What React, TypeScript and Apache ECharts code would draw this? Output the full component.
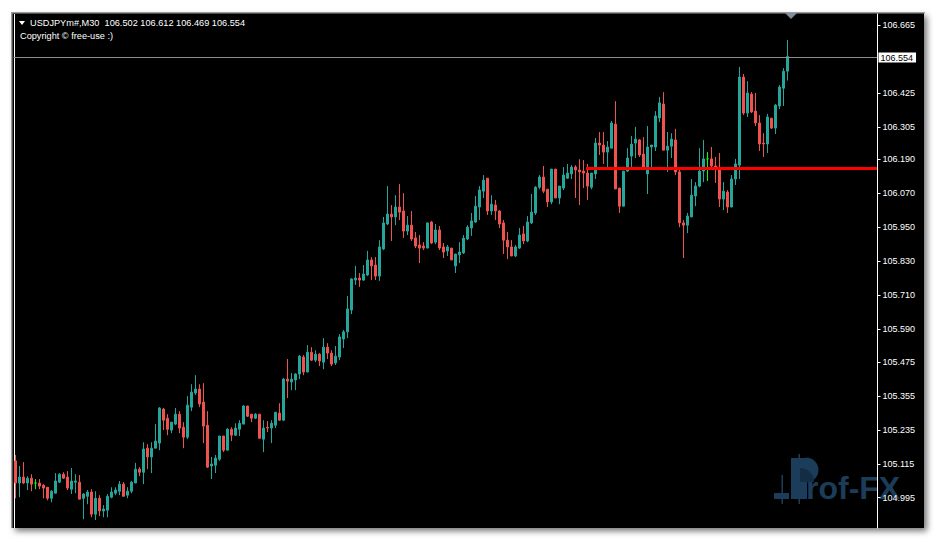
import React, { useEffect, useRef } from "react";
import * as echarts from "echarts";

// ---- data ----
const symbolTitle = "USDJPYm#,M30";
const lastBar = { open: 106.502, high: 106.612, low: 106.469, close: 106.554 };
const copyrightText = "Copyright \u00A9 free-use :)";

const opens = [
  105.125, 105.047, 105.068, 105.047, 105.064, 105.047, 105.047, 105.039, 105.032, 104.993,
  105.011, 105.050, 105.078, 105.068, 105.025, 105.050, 105.050, 104.993, 105.000, 105.015,
  104.937, 104.993, 104.948, 104.951, 104.997, 105.011, 105.018, 105.043, 105.004, 105.018,
  105.047, 105.096, 105.085, 105.170, 105.139, 105.170, 105.188, 105.308, 105.276, 105.234,
  105.255, 105.290, 105.244, 105.209, 105.315, 105.365, 105.379, 105.333, 105.251, 105.107,
  105.110, 105.131, 105.213, 105.163, 105.237, 105.216, 105.237, 105.255, 105.319, 105.290,
  105.276, 105.290, 105.202, 105.244, 105.241, 105.251, 105.294, 105.269, 105.414, 105.404,
  105.411, 105.432, 105.492, 105.439, 105.509, 105.481, 105.502, 105.474, 105.527, 105.506,
  105.471, 105.492, 105.556, 105.581, 105.658, 105.764, 105.771, 105.764, 105.782, 105.835,
  105.817, 105.778, 105.874, 105.962, 105.997, 105.987, 106.022, 106.008, 105.937, 105.958,
  105.913, 105.888, 105.884, 105.877, 105.969, 105.898, 105.941, 105.881, 105.867, 105.877,
  105.814, 105.853, 105.860, 105.909, 105.948, 105.969, 106.022, 106.078, 106.124, 106.008,
  106.029, 106.008, 105.966, 105.905, 105.881, 105.849, 105.877, 105.927, 105.902, 105.966,
  106.001, 106.092, 106.128, 106.085, 106.040, 106.156, 106.054, 106.089, 106.124, 106.139,
  106.163, 106.153, 106.149, 106.142, 106.092, 106.139, 106.248, 106.241, 106.216, 106.230,
  106.315, 106.089, 106.025, 106.149, 106.202, 106.248, 106.259, 106.209, 106.139, 106.234,
  106.234, 106.337, 106.386, 106.223, 106.237, 106.259, 106.146, 105.966, 105.958, 105.987,
  106.061, 106.096, 106.149, 106.192, 106.192, 106.167, 106.160, 106.050, 106.075, 106.022,
  106.121, 106.170, 106.481, 106.354, 106.421, 106.361, 106.319, 106.248, 106.245, 106.336,
  106.301, 106.379, 106.442, 106.502,
];

const closes = [
  105.047, 105.068, 105.047, 105.064, 105.043, 105.047, 105.036, 105.029, 104.993, 105.018,
  105.054, 105.078, 105.064, 105.029, 105.054, 105.054, 104.990, 105.008, 105.015, 104.937,
  104.993, 104.948, 104.955, 105.000, 105.015, 105.022, 105.043, 105.000, 105.018, 105.050,
  105.096, 105.085, 105.167, 105.139, 105.170, 105.195, 105.312, 105.269, 105.237, 105.262,
  105.290, 105.241, 105.209, 105.322, 105.368, 105.379, 105.326, 105.248, 105.103, 105.114,
  105.135, 105.213, 105.163, 105.237, 105.216, 105.241, 105.258, 105.319, 105.283, 105.276,
  105.290, 105.205, 105.241, 105.241, 105.258, 105.297, 105.269, 105.414, 105.407, 105.414,
  105.432, 105.495, 105.439, 105.509, 105.481, 105.502, 105.478, 105.527, 105.506, 105.467,
  105.495, 105.563, 105.581, 105.662, 105.768, 105.771, 105.764, 105.785, 105.835, 105.814,
  105.778, 105.881, 105.966, 105.997, 105.987, 106.022, 106.004, 105.937, 105.958, 105.909,
  105.884, 105.877, 105.877, 105.966, 105.895, 105.941, 105.877, 105.863, 105.881, 105.835,
  105.856, 105.863, 105.912, 105.951, 105.973, 106.025, 106.082, 106.117, 106.008, 106.032,
  106.008, 105.962, 105.905, 105.881, 105.849, 105.881, 105.923, 105.902, 105.969, 106.004,
  106.092, 106.128, 106.078, 106.040, 106.156, 106.054, 106.096, 106.135, 106.142, 106.163,
  106.153, 106.146, 106.142, 106.096, 106.142, 106.248, 106.241, 106.216, 106.234, 106.319,
  106.086, 106.025, 106.149, 106.195, 106.244, 106.262, 106.206, 106.160, 106.234, 106.241,
  106.344, 106.390, 106.223, 106.237, 106.262, 106.146, 105.966, 105.958, 105.990, 106.064,
  106.096, 106.149, 106.192, 106.192, 106.167, 106.156, 106.050, 106.078, 106.022, 106.121,
  106.174, 106.481, 106.354, 106.425, 106.358, 106.319, 106.245, 106.245, 106.340, 106.301,
  106.382, 106.446, 106.502, 106.554,
];

const lows = [
  104.993, 104.997, 105.043, 105.022, 105.018, 105.025, 105.025, 104.993, 104.986, 104.979,
  105.011, 105.047, 105.061, 105.022, 105.008, 105.011, 104.990, 104.919, 104.972, 104.926,
  104.916, 104.930, 104.926, 104.926, 104.993, 105.004, 105.004, 105.000, 104.993, 105.011,
  105.047, 105.071, 105.043, 105.096, 105.082, 105.170, 105.163, 105.234, 105.216, 105.223,
  105.251, 105.223, 105.170, 105.202, 105.301, 105.358, 105.315, 105.188, 105.100, 105.061,
  105.082, 105.125, 105.156, 105.163, 105.195, 105.213, 105.213, 105.255, 105.280, 105.262,
  105.273, 105.205, 105.156, 105.227, 105.188, 105.241, 105.266, 105.266, 105.347, 105.375,
  105.375, 105.414, 105.428, 105.439, 105.478, 105.474, 105.460, 105.449, 105.485, 105.460,
  105.464, 105.481, 105.524, 105.559, 105.644, 105.747, 105.740, 105.761, 105.778, 105.764,
  105.764, 105.761, 105.870, 105.958, 105.902, 105.958, 105.976, 105.913, 105.923, 105.902,
  105.877, 105.824, 105.870, 105.877, 105.891, 105.891, 105.870, 105.842, 105.849, 105.835,
  105.789, 105.824, 105.856, 105.905, 105.920, 105.966, 105.976, 106.054, 105.994, 105.994,
  105.976, 105.948, 105.856, 105.838, 105.849, 105.845, 105.874, 105.891, 105.898, 105.962,
  105.994, 106.085, 106.071, 106.022, 106.032, 106.054, 106.032, 106.082, 106.121, 106.121,
  106.054, 106.029, 106.089, 106.047, 106.085, 106.121, 106.206, 106.174, 106.160, 106.230,
  106.086, 106.001, 106.025, 106.146, 106.153, 106.195, 106.199, 106.160, 106.068, 106.160,
  106.220, 106.322, 106.223, 106.146, 106.195, 106.135, 105.951, 105.842, 105.930, 105.987,
  106.025, 106.092, 106.110, 106.114, 106.163, 106.107, 106.022, 106.011, 106.001, 106.022,
  106.100, 106.121, 106.347, 106.340, 106.354, 106.308, 106.220, 106.199, 106.213, 106.298,
  106.280, 106.368, 106.379, 106.469,
];

const highs = [
  105.146, 105.107, 105.121, 105.071, 105.078, 105.061, 105.061, 105.043, 105.032, 105.022,
  105.082, 105.082, 105.085, 105.089, 105.100, 105.078, 105.075, 105.011, 105.022, 105.025,
  105.018, 105.004, 104.969, 105.008, 105.032, 105.032, 105.054, 105.050, 105.032, 105.054,
  105.118, 105.103, 105.191, 105.184, 105.191, 105.255, 105.315, 105.312, 105.290, 105.262,
  105.312, 105.301, 105.262, 105.354, 105.396, 105.428, 105.396, 105.400, 105.301, 105.139,
  105.146, 105.213, 105.213, 105.241, 105.244, 105.258, 105.269, 105.322, 105.319, 105.290,
  105.294, 105.290, 105.269, 105.266, 105.269, 105.297, 105.329, 105.418, 105.485, 105.435,
  105.435, 105.499, 105.499, 105.534, 105.527, 105.516, 105.506, 105.559, 105.541, 105.516,
  105.531, 105.573, 105.588, 105.708, 105.771, 105.814, 105.789, 105.817, 105.867, 105.845,
  105.845, 105.905, 105.987, 106.096, 106.029, 106.064, 106.103, 106.071, 105.990, 106.008,
  105.934, 105.923, 105.898, 105.966, 105.973, 105.962, 105.955, 105.895, 105.888, 105.877,
  105.856, 105.898, 105.923, 105.958, 106.001, 106.061, 106.096, 106.135, 106.124, 106.064,
  106.047, 106.011, 105.976, 105.934, 105.905, 105.888, 105.948, 105.955, 105.990, 106.068,
  106.096, 106.135, 106.167, 106.085, 106.156, 106.156, 106.096, 106.163, 106.174, 106.170,
  106.170, 106.191, 106.188, 106.174, 106.142, 106.266, 106.287, 106.287, 106.255, 106.326,
  106.396, 106.089, 106.149, 106.230, 106.273, 106.305, 106.262, 106.269, 106.308, 106.241,
  106.361, 106.411, 106.428, 106.287, 106.283, 106.298, 106.160, 105.976, 106.001, 106.121,
  106.110, 106.230, 106.259, 106.216, 106.234, 106.199, 106.213, 106.110, 106.082, 106.135,
  106.192, 106.517, 106.492, 106.467, 106.428, 106.425, 106.347, 106.283, 106.351, 106.336,
  106.386, 106.453, 106.513, 106.612,
];

const priceTicks = [
  106.665, 106.425, 106.305, 106.19, 106.07, 105.95, 105.83, 105.71, 105.59, 105.475,
  105.355, 105.235, 105.115, 104.995,
];
const bidPrice = 106.554;
const levelPrice = 106.158;
const levelStartBar = 143;
const totalSlots = 216; // bar slots visible in the window (incl. empty right shift)

const FONT = "Liberation Sans, Arial, sans-serif";
const BULL = "#26a69a";
const BEAR = "#ef5350";
const LOGO = "#1b3d5a";
const LOGO_DARK = "#132d44";

export default function App() {
  const ref = useRef<HTMLDivElement>(null);

  useEffect(() => {
    if (!ref.current) return;
    const chart = echarts.init(ref.current, null, { renderer: "svg" });

    const categories: string[] = [];
    for (let i = 0; i < totalSlots; i++) categories.push(String(i));
    const ohlc = opens.map((o, i) => [o, closes[i], lows[i], highs[i]]);
    const header = `${symbolTitle}  ${lastBar.open.toFixed(3)} ${lastBar.high.toFixed(3)} ${lastBar.low.toFixed(3)} ${lastBar.close.toFixed(3)}`;

    chart.setOption({
      animation: false,
      backgroundColor: "#ffffff",
      grid: { left: 13.5, right: 58.5, top: 14, bottom: 12, containLabel: false },
      xAxis: {
        type: "category",
        data: categories,
        boundaryGap: true,
        axisLine: { show: false },
        axisTick: { show: false },
        axisLabel: { show: false },
        splitLine: { show: false },
      },
      yAxis: {
        type: "value",
        position: "right",
        min: 104.888,
        max: 106.704,
        scale: true,
        z: 5,
        axisLine: { show: true, lineStyle: { color: "#ffffff", width: 1 } },
        axisTick: {
          show: true,
          length: 3,
          lineStyle: { color: "#ffffff", width: 1 },
          customValues: priceTicks,
        },
        axisLabel: {
          show: true,
          color: "#ffffff",
          fontSize: 9,
          fontFamily: FONT,
          margin: 5,
          customValues: priceTicks,
          formatter: (v: number) => v.toFixed(3),
        },
        splitLine: { show: false },
      },
      graphic: [
        {
          type: "rect",
          z: -20,
          shape: { x: 12, y: 13, width: 912, height: 515 },
          style: {
            fill: "#000000",
            shadowBlur: 6,
            shadowOffsetX: 3,
            shadowOffsetY: 3,
            shadowColor: "rgba(0,0,0,0.55)",
          },
        },
        { type: "rect", z: -19, shape: { x: 11, y: 12, width: 914, height: 1.5 }, style: { fill: "#9a9a9a" } },
        { type: "rect", z: -19, shape: { x: 11, y: 12, width: 1.5, height: 516 }, style: { fill: "#9a9a9a" } },
        { type: "rect", z: -18, shape: { x: 14, y: 14, width: 1, height: 514 }, style: { fill: "#ffffff" } },
        // logo (drawn under the axis labels, as in the reference)
        { type: "rect", z: -15, shape: { x: 774, y: 493, width: 15, height: 6 }, style: { fill: LOGO } },
        { type: "rect", z: -15, shape: { x: 781.5, y: 475, width: 1.5, height: 29 }, style: { fill: LOGO } },
        { type: "rect", z: -15, shape: { x: 791, y: 458, width: 16, height: 41 }, style: { fill: LOGO } },
        { type: "rect", z: -15, shape: { x: 798.5, y: 454, width: 1.5, height: 50 }, style: { fill: LOGO } },
        {
          type: "sector",
          z: -15,
          shape: { cx: 806, cy: 470, r: 12.5, r0: 0, startAngle: -Math.PI / 2, endAngle: Math.PI / 2 },
          style: { fill: LOGO },
        },
        {
          type: "sector",
          z: -14,
          shape: { cx: 800, cy: 482, r: 14, r0: 0, startAngle: -Math.PI / 2, endAngle: 0 },
          style: { fill: LOGO_DARK },
        },
        {
          type: "text",
          z: -14,
          x: 806,
          y: 488,
          style: {
            text: "rof-FX",
            fill: LOGO,
            fontSize: 32,
            fontWeight: "bold",
            fontFamily: FONT,
            verticalAlign: "middle",
          },
        },
        // header
        {
          type: "polygon",
          z: 10,
          shape: { points: [[19, 21], [25, 21], [22, 25]] },
          style: { fill: "#ffffff" },
        },
        {
          type: "text",
          z: 10,
          x: 30,
          y: 23,
          style: { text: header, fill: "#ffffff", fontSize: 9.2, fontFamily: FONT, verticalAlign: "middle" },
        },
        {
          type: "text",
          z: 10,
          x: 20,
          y: 35.5,
          style: { text: copyrightText, fill: "#ffffff", fontSize: 9.2, fontFamily: FONT, verticalAlign: "middle" },
        },
        {
          type: "polygon",
          z: 10,
          shape: { points: [[785, 13], [797, 13], [791, 19]] },
          style: { fill: "#7f8c99" },
        },
      ],
      series: [
        {
          type: "candlestick",
          data: ohlc,
          barWidth: 2,
          silent: true,
          itemStyle: {
            color: BULL,
            color0: BEAR,
            borderColor: BULL,
            borderColor0: BEAR,
            borderColorDoji: "#00ff00",
            borderWidth: 1,
          },
          markLine: {
            silent: true,
            symbol: ["none", "none"],
            animation: false,
            data: [
              {
                yAxis: bidPrice,
                lineStyle: { color: "#8c8c8c", width: 1, type: "solid" },
                label: {
                  show: true,
                  position: "end",
                  distance: 1,
                  formatter: bidPrice.toFixed(3),
                  color: "#000000",
                  backgroundColor: "#ffffff",
                  padding: [1, 3, 0, 2],
                  fontSize: 9,
                  fontFamily: FONT,
                },
              },
              [
                {
                  coord: [levelStartBar, levelPrice],
                  lineStyle: { color: "#ff0000", width: 3, type: "solid", cap: "square" },
                  label: { show: false },
                },
                { coord: [totalSlots - 1, levelPrice] },
              ],
            ],
          },
        },
      ],
    });

    return () => chart.dispose();
  }, []);

  return (
    <div
      ref={ref}
      style={{ position: "fixed", left: 0, top: 0, width: 936, height: 540 }}
    />
  );
}
